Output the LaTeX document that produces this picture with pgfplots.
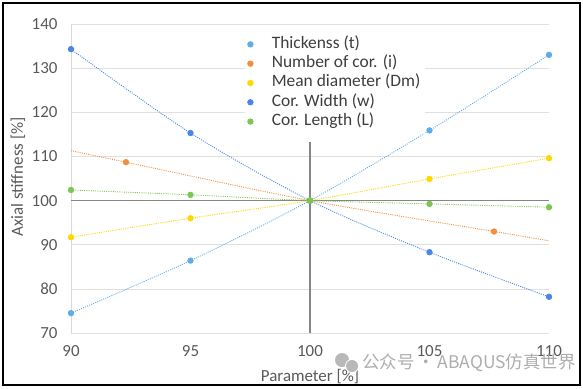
\documentclass[border=0pt]{standalone}
\usepackage{pgfplots}
\pgfplotsset{compat=1.18}
\usepackage{fontspec}
\setmainfont{Carlito}
\newfontfamily\cjk{Noto Sans CJK SC}
\definecolor{cThk}{HTML}{5DADEC}
\definecolor{cNum}{HTML}{F28E3C}
\definecolor{cDm}{HTML}{FFD800}
\definecolor{cW}{HTML}{4A86E8}
\definecolor{cL}{HTML}{7DC653}
\definecolor{txt}{HTML}{595959}
\definecolor{axgray}{HTML}{868686}
\begin{document}
\begin{tikzpicture}[x=1bp,y=1bp]
\useasboundingbox (0,0) rectangle (583,388);
\draw[black, line width=1.2bp] (3,3) rectangle (580,385);
\begin{axis}[at={(71bp,55bp)}, anchor=south west, scale only axis,
  width=478bp, height=309bp,
  xmin=90, xmax=110, ymin=70, ymax=140,
  xtick={90,95,100,105,110}, ytick={70,80,90,100,110,120,130,140},
  xticklabels={90,95,100,105,110},
  yticklabels={70,80,90,100,110,120,130,140},
  axis line style={draw=none}, major tick length=0pt,
  ymajorgrids, grid style={draw=black!12, line width=0.7pt},
  /pgf/number format/assume math mode=true,
  xticklabel style={font=\fontsize{17}{19}\selectfont, text=txt, yshift=-9bp},
  yticklabel style={font=\fontsize{17}{19}\selectfont, text=txt, xshift=-10bp},
  legend style={at={(axis description cs:0.363,0.9757)}, anchor=north west,
    fill=white, draw=none, font=\fontsize{17.5}{20}\selectfont, text=txt!70!black,
    row sep=0bp, inner sep=3bp, column sep=17bp,
    nodes={text height=12bp, text depth=4bp, inner sep=1.65bp}},
  legend cell align=left,
  every axis plot/.append style={line width=0.9bp},
]
\draw[black!15, line width=0.7pt] (axis cs:90,70) -- (axis cs:90,140);
\draw[axgray, line width=1.2bp] (axis cs:90,100) -- (axis cs:110,100);
\draw[axgray, line width=1.2bp] (axis cs:100,70) -- (axis cs:100,113.3);

% trendlines
\addplot[cThk, dash pattern=on 1bp off 1.2bp, smooth, forget plot] coordinates {(90,74.5) (95,86.4) (100,100) (105,115.9) (110,133.0)};
\addplot[cNum, dash pattern=on 1bp off 1.2bp, smooth, forget plot] coordinates {(90,111.3) (92.3,108.7) (100,100) (107.7,93.0) (110,90.9)};
\addplot[cDm, dash pattern=on 1bp off 1.2bp, smooth, forget plot] coordinates {(90,91.7) (95,96.0) (100,100) (105,104.9) (110,109.6)};
\addplot[cW, dash pattern=on 1bp off 1.2bp, smooth, forget plot] coordinates {(90,134.3) (95,115.3) (100,100) (105,88.3) (110,78.2)};
\addplot[cL, dash pattern=on 1bp off 1.2bp, smooth, forget plot] coordinates {(90,102.4) (95,101.3) (100,100) (105,99.25) (110,98.5)};

% data points
\addplot[only marks, mark=*, mark size=2.7bp, cThk] coordinates {(90,74.5) (95,86.4) (100,100) (105,115.9) (110,133.0)};
\addlegendentry{Thickenss (t)}
\addplot[only marks, mark=*, mark size=2.7bp, cNum] coordinates {(92.3,108.7) (100,100) (107.7,93.0)};
\addlegendentry{Number of cor. (i)}
\addplot[only marks, mark=*, mark size=2.7bp, cDm] coordinates {(90,91.7) (95,96.0) (100,100) (105,104.9) (110,109.6)};
\addlegendentry{Mean diameter (Dm)}
\addplot[only marks, mark=*, mark size=2.7bp, cW] coordinates {(90,134.3) (95,115.3) (100,100) (105,88.3) (110,78.2)};
\addlegendentry{Cor. Width (w)}
\addplot[only marks, mark=*, mark size=2.7bp, cL] coordinates {(90,102.4) (95,101.3) (100,100) (105,99.25) (110,98.5)};
\addlegendentry{Cor. Length (L)}
\end{axis}
\node[rotate=90, font=\fontsize{17}{19}\selectfont, text=txt] at (18,211) {Axial stiffness [\%]};
\node[font=\fontsize{17}{19}\selectfont, text=txt] at (310,11) {Parameter [\%]};
% watermark
\fill[black!28] (342,28) circle (7);
\fill[white] (352,22) circle (7);
\fill[black!28] (352,22) circle (6);
\node[font=\cjk\fontsize{17.5}{20}\selectfont, text=black!32, anchor=west, inner sep=0pt] at (362,25) {公众号\,·\,ABAQUS仿真世界};
\end{tikzpicture}
\end{document}
